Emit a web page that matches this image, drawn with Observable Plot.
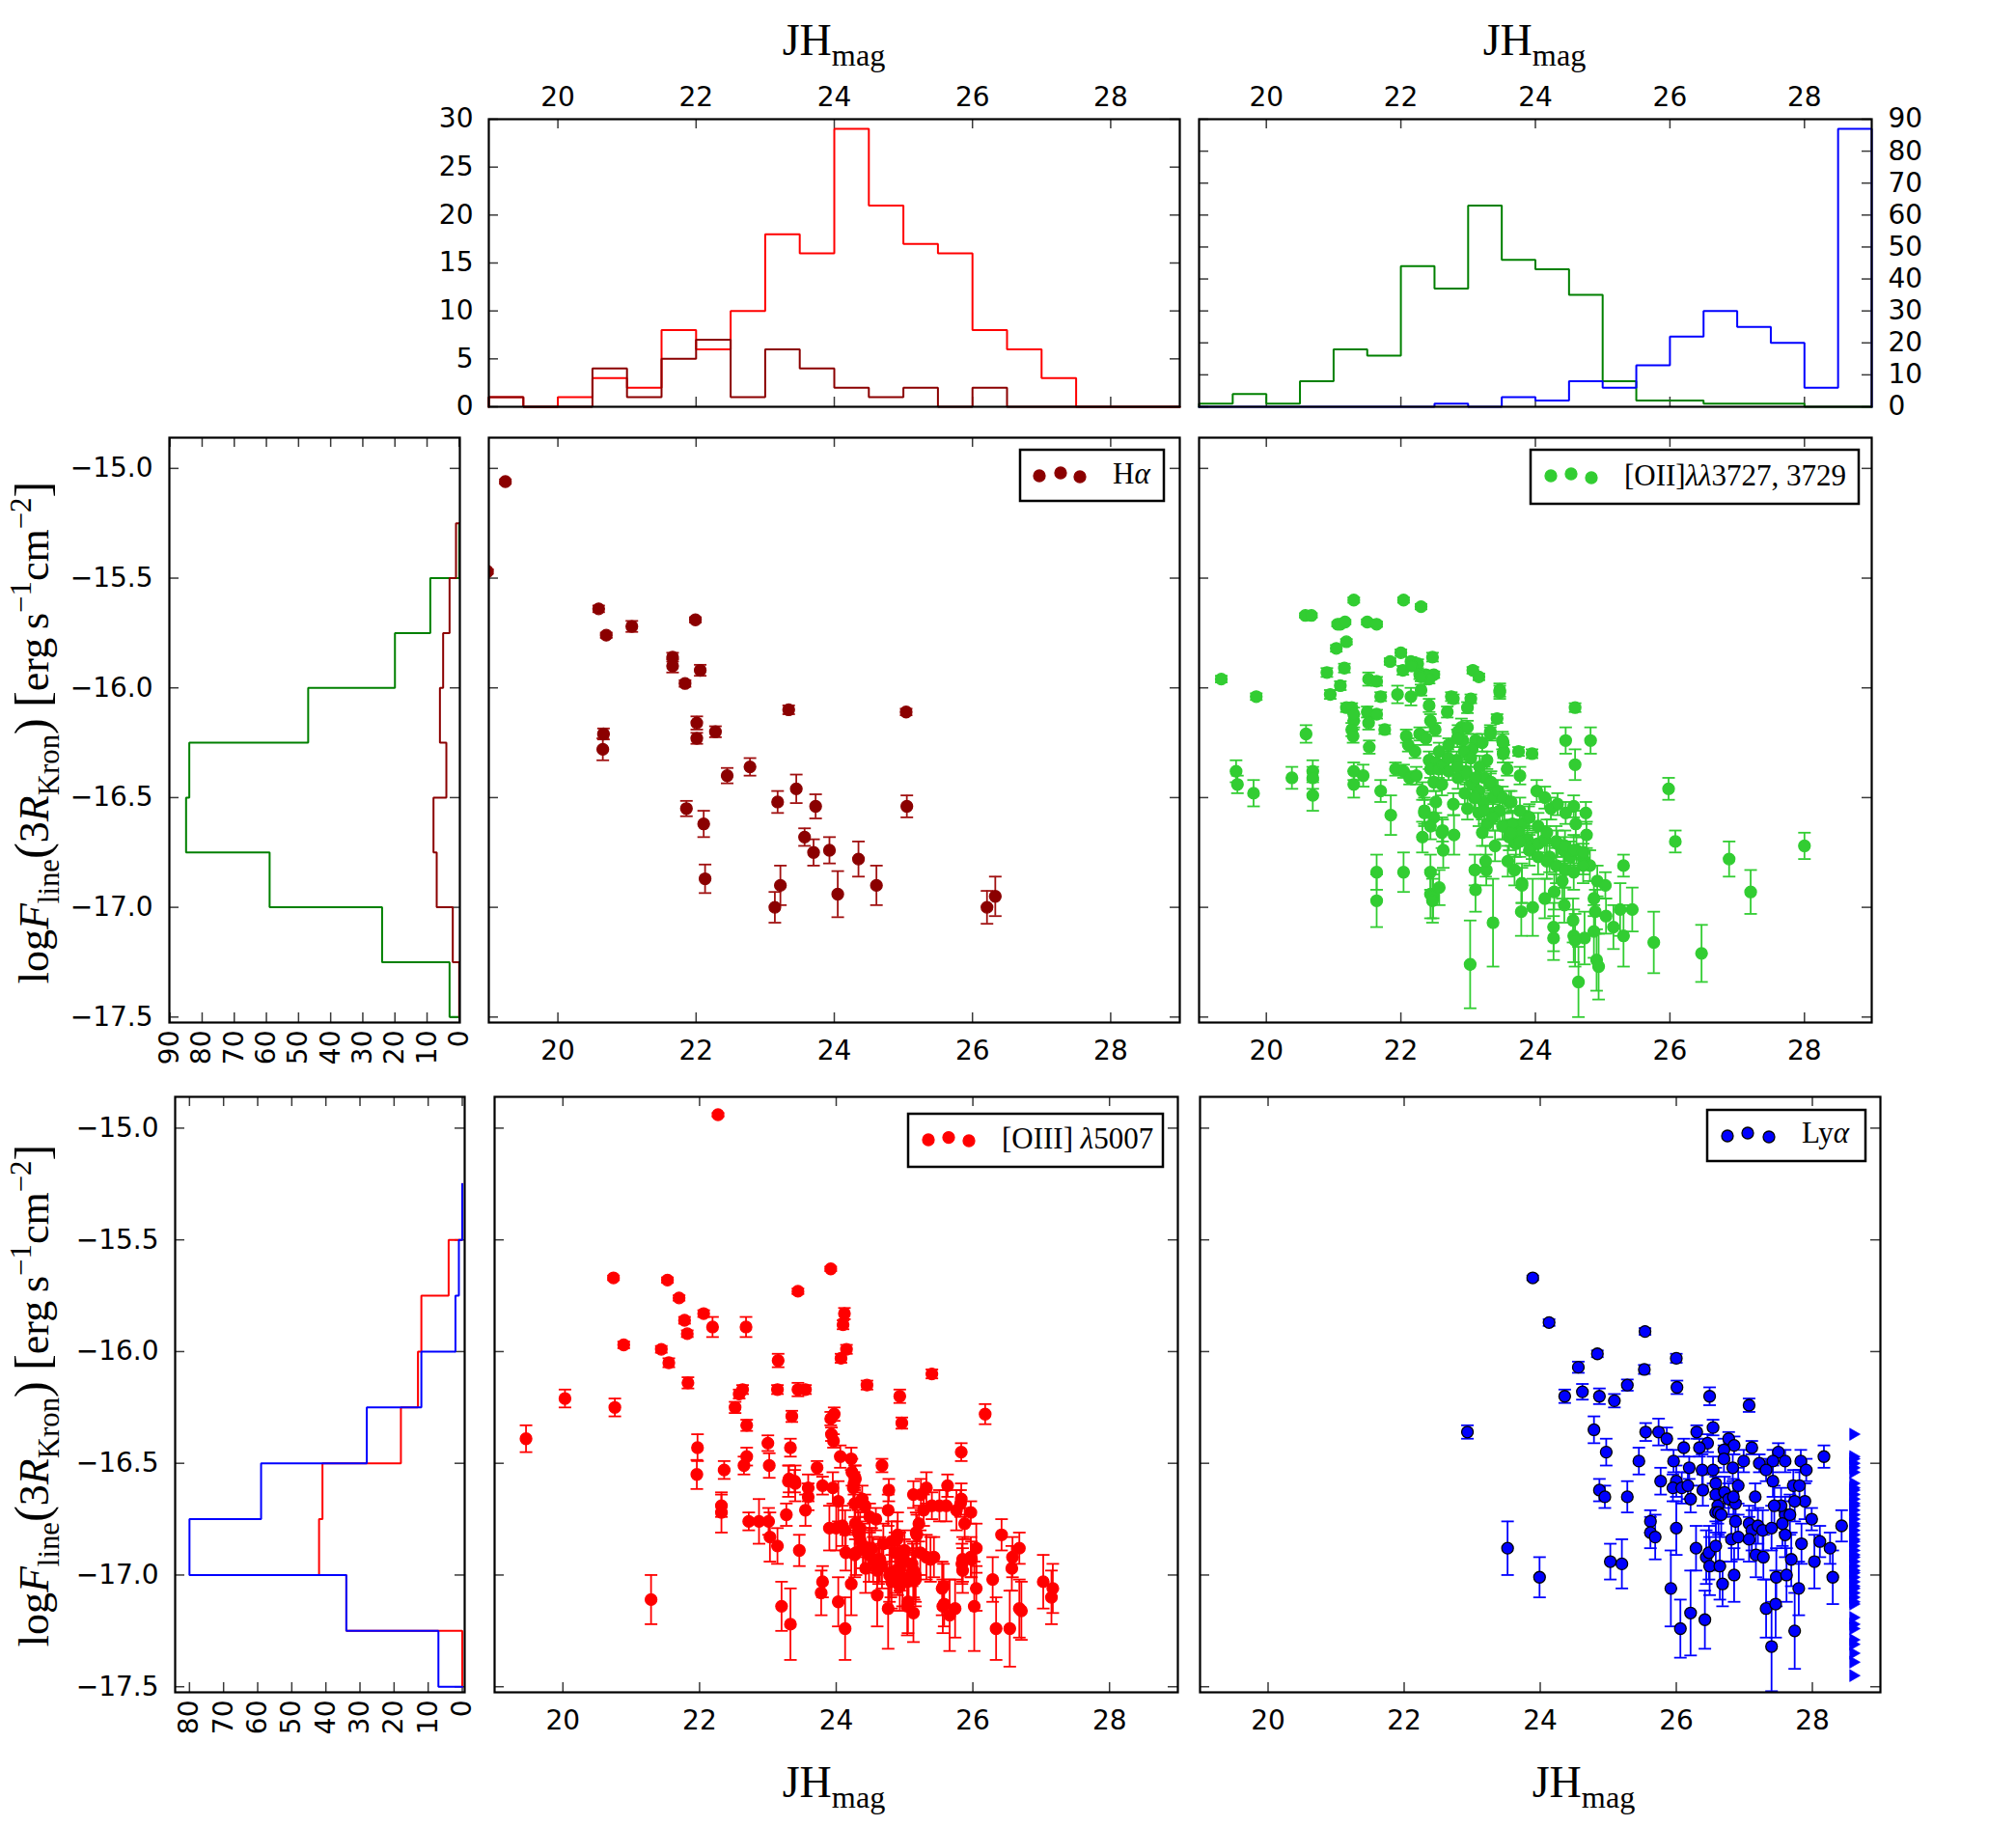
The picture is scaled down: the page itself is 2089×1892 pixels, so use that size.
<!DOCTYPE html>
<html>
<head>
<meta charset="utf-8">
<script src="https://cdn.jsdelivr.net/npm/d3@7"></script>
<script src="https://cdn.jsdelivr.net/npm/@observablehq/plot@0.6"></script>
<style>
  body { margin: 0; background: #fff; }
  #fig { position: relative; width: 2089px; height: 1892px; background: #fff; overflow: hidden; }
  #fig svg { position: absolute; overflow: visible; }
</style>
</head>
<body>
<div id="fig"></div>
<script>
// ---------------- data ----------------
// JH magnitude histogram bins (0.5 mag) and line-flux histogram bins (0.25 dex)
const jhEdges = [19.0, 19.5, 20.0, 20.5, 21.0, 21.5, 22.0, 22.5, 23.0, 23.5, 24.0, 24.5, 25.0, 25.5, 26.0, 26.5, 27.0, 27.5, 28.0, 28.5, 29.0];
const fluxEdges = [-17.5, -17.25, -17.0, -16.75, -16.5, -16.25, -16.0, -15.75, -15.5, -15.25];

// counts per JH bin
const oiiiMagCounts = [1, 0, 1, 3, 2, 8, 6, 10, 18, 16, 29, 21, 17, 16, 8, 6, 3, 0, 0, 0];
const haMagCounts   = [1, 0, 0, 4, 1, 5, 7, 1, 6, 4, 2, 1, 2, 0, 2, 0, 0, 0, 0, 0];
const oiiMagCounts  = [1, 4, 1, 8, 18, 16, 44, 37, 63, 46, 43, 35, 8, 2, 2, 1, 1, 1, 0, 0];
const lyaMagCounts  = [0, 0, 0, 0, 0, 0, 0, 1, 0, 3, 2, 8, 6, 13, 22, 30, 25, 20, 6, 87];

// counts per log-flux bin (faintest first)
const oiiFluxCounts  = [3, 24, 59, 85, 84, 47, 20, 9, 0];
const haFluxCounts   = [0, 2, 7, 8, 4, 6, 5, 3, 1];
const oiiiFluxCounts = [0, 34, 42, 41, 18, 13, 12, 4, 0];
const lyaFluxCounts  = [7, 34, 80, 59, 28, 12, 2, 1, 0];

// tick values
const jhTicks = [20, 22, 24, 26, 28];
const fluxTicks = [-15.0, -15.5, -16.0, -16.5, -17.0, -17.5];
const topLeftCountTicks = [0, 5, 10, 15, 20, 25, 30];
const topRightCountTicks = [0, 10, 20, 30, 40, 50, 60, 70, 80, 90];
const sideCountTicks1 = [0, 10, 20, 30, 40, 50, 60, 70, 80, 90];
const sideCountTicks2 = [0, 10, 20, 30, 40, 50, 60, 70, 80];

// [JH mag, log F, error]
const haPoints = [
  [18.98,-15.47,0.01],[19.24,-15.06,0.01],[20.59,-15.64,0.015],[20.70,-15.76,0.012],[21.07,-15.72,0.025],
  [21.66,-15.86,0.02],[21.66,-15.90,0.03],[21.99,-15.69,0.012],[22.06,-15.92,0.025],[21.84,-15.98,0.015],
  [23.34,-16.10,0.02],[25.04,-16.11,0.015],[20.66,-16.21,0.025],[20.65,-16.28,0.05],[22.01,-16.16,0.03],
  [22.01,-16.23,0.025],[22.28,-16.20,0.025],[22.45,-16.40,0.035],[22.78,-16.36,0.04],[23.45,-16.46,0.065],
  [23.18,-16.52,0.05],[23.73,-16.54,0.055],[25.05,-16.54,0.05],[21.86,-16.55,0.035],[22.11,-16.62,0.06],
  [23.57,-16.68,0.04],[23.70,-16.75,0.06],[23.93,-16.74,0.06],[24.35,-16.78,0.08],[22.13,-16.87,0.065],
  [23.22,-16.90,0.09],[24.61,-16.90,0.09],[23.14,-17.00,0.07],[24.05,-16.94,0.105],[26.21,-17.00,0.075],
  [26.33,-16.95,0.09]
];

const oiiPoints = [
  [21.30,-15.60,0.012],[22.04,-15.60,0.012],[22.30,-15.63,0.012],[20.58,-15.67,0.01],[20.67,-15.67,0.01],
  [21.06,-15.71,0.01],[21.10,-15.71,0.01],[21.17,-15.70,0.01],[21.50,-15.70,0.012],[21.64,-15.71,0.012],
  [21.19,-15.79,0.012],[21.04,-15.82,0.015],[22.00,-15.84,0.015],[22.47,-15.86,0.02],[21.84,-15.88,0.015],
  [22.15,-15.88,0.02],[22.25,-15.89,0.02],[20.90,-15.93,0.02],[21.16,-15.91,0.02],[22.03,-15.92,0.02],
  [22.28,-15.94,0.02],[22.37,-15.94,0.02],[22.49,-15.94,0.015],[22.42,-15.96,0.02],[23.07,-15.92,0.015],
  [23.16,-15.95,0.015],[19.33,-15.96,0.015],[21.52,-15.96,0.03],[21.64,-15.97,0.02],[21.10,-15.99,0.02],
  [22.30,-16.01,0.025],[19.85,-16.04,0.015],[20.95,-16.03,0.02],[21.70,-16.04,0.02],[21.95,-16.03,0.04],
  [22.15,-16.04,0.04],[22.75,-16.04,0.02],[22.78,-16.05,0.02],[23.04,-16.05,0.02],[23.47,-16.01,0.03],
  [23.47,-16.02,0.03],[22.42,-16.08,0.03],[21.19,-16.09,0.02],[21.27,-16.09,0.02],[21.50,-16.11,0.025],
  [21.64,-16.12,0.02],[22.69,-16.11,0.025],[22.99,-16.09,0.025],[23.43,-16.14,0.02],[21.30,-16.15,0.03],
  [21.27,-16.19,0.03],[21.29,-16.22,0.03],[21.52,-16.16,0.03],[21.76,-16.19,0.02],[20.59,-16.21,0.04],
  [21.53,-16.27,0.03],[22.51,-16.19,0.03],[22.44,-16.15,0.03],[22.90,-16.18,0.04],[23.33,-16.20,0.03],
  [23.51,-16.24,0.04],[23.53,-16.29,0.03],[23.75,-16.29,0.02],[23.95,-16.30,0.02],[24.45,-16.24,0.06],
  [24.82,-16.24,0.06],[24.59,-16.09,0.02],[24.59,-16.35,0.07],[23.58,-16.37,0.03],[23.77,-16.40,0.04],
  [19.55,-16.38,0.05],[19.57,-16.44,0.04],[19.81,-16.48,0.06],[20.38,-16.41,0.05],[20.69,-16.38,0.05],
  [20.69,-16.41,0.05],[20.69,-16.49,0.07],[21.30,-16.38,0.04],[21.30,-16.44,0.06],[21.44,-16.40,0.05],
  [21.70,-16.47,0.05],[21.85,-16.58,0.09],[21.64,-16.84,0.08],[21.64,-16.97,0.12],[22.04,-16.84,0.09],
  [22.32,-16.68,0.07],[22.35,-16.56,0.06],[22.44,-16.84,0.08],[22.44,-16.94,0.11],[22.48,-16.95,0.10],
  [22.57,-16.91,0.08],[22.62,-16.65,0.05],[22.63,-16.74,0.08],[22.78,-16.53,0.05],[22.79,-16.67,0.09],
  [23.03,-17.26,0.20],[23.10,-16.83,0.07],[23.11,-16.92,0.10],[23.27,-16.83,0.07],[23.37,-17.07,0.20],
  [23.40,-16.72,0.07],[23.79,-17.02,0.11],[23.80,-16.89,0.09],[23.96,-17.00,0.13],[24.27,-17.14,0.10],
  [24.27,-17.09,0.11],[24.43,-16.99,0.08],[24.56,-17.06,0.10],[24.57,-17.13,0.12],[24.64,-17.34,0.16],
  [24.73,-17.14,0.12],[24.87,-17.11,0.12],[24.89,-17.02,0.10],[24.87,-16.96,0.08],[24.91,-17.24,0.14],
  [24.94,-17.27,0.15],[24.92,-16.88,0.07],[25.04,-16.90,0.06],[25.05,-17.04,0.08],[25.16,-17.09,0.10],
  [25.26,-17.01,0.12],[25.31,-17.13,0.14],[25.31,-16.81,0.05],[25.44,-17.01,0.10],[25.76,-17.16,0.14],
  [25.98,-16.46,0.05],[26.08,-16.70,0.05],[26.47,-17.21,0.13],[26.88,-16.78,0.08],[27.20,-16.93,0.10],
  [28.00,-16.72,0.06],
  [22.16,-15.90,0.02],[22.30,-15.95,0.02],[21.30,-16.12,0.03],[22.08,-16.22,0.03],[22.11,-16.26,0.03],
  [22.21,-16.29,0.03],[22.28,-16.21,0.03],[22.37,-16.23,0.03],[22.71,-16.26,0.03],[22.85,-16.20,0.03],
  [22.92,-16.24,0.03],[22.99,-16.18,0.03],[23.11,-16.24,0.03],[23.06,-16.28,0.03],[23.21,-16.25,0.04],
  [23.28,-16.33,0.04],[23.33,-16.21,0.03],[23.52,-16.25,0.04],[23.52,-16.30,0.04],[21.92,-16.37,0.03],
  [22.04,-16.38,0.03],[22.13,-16.41,0.03],[22.23,-16.40,0.04],[22.32,-16.47,0.04],[22.42,-16.33,0.04],
  [22.52,-16.34,0.04],[22.44,-16.37,0.04],[22.56,-16.37,0.04],[22.63,-16.35,0.04],[22.71,-16.38,0.04],
  [22.49,-16.43,0.04],[22.61,-16.44,0.05],[22.83,-16.33,0.04],[22.85,-16.41,0.05],[22.97,-16.38,0.04],
  [23.06,-16.44,0.05],[22.95,-16.48,0.05],[23.09,-16.50,0.05],[23.16,-16.47,0.05],[23.23,-16.52,0.05],
  [23.33,-16.44,0.05],[23.37,-16.50,0.05],[22.99,-16.55,0.05],[23.16,-16.57,0.06],[23.28,-16.62,0.06],
  [23.21,-16.66,0.06],[23.37,-16.57,0.05],[23.47,-16.56,0.05],[23.54,-16.63,0.06],[23.61,-16.52,0.05],
  [22.52,-16.52,0.05],[22.49,-16.59,0.06],[22.35,-16.57,0.06],[22.44,-16.63,0.06],[22.61,-16.66,0.07],
  [22.47,-16.97,0.10],[23.26,-16.79,0.07],[23.61,-16.68,0.06],[23.71,-16.71,0.06],[23.80,-16.62,0.06],
  [23.90,-16.59,0.05],[24.02,-16.47,0.05],[24.14,-16.50,0.05],[24.23,-16.55,0.05],[24.33,-16.53,0.05],
  [23.66,-16.62,0.06],[23.76,-16.66,0.06],[23.88,-16.69,0.06],[23.95,-16.72,0.06],[24.04,-16.71,0.06],
  [24.14,-16.69,0.06],[24.21,-16.77,0.07],[24.33,-16.71,0.06],[24.42,-16.74,0.06],[24.52,-16.77,0.07],
  [24.61,-16.74,0.06],[24.71,-16.78,0.07],[24.81,-16.81,0.07],[24.45,-16.57,0.05],[24.57,-16.54,0.05],
  [24.75,-16.57,0.05],[24.76,-16.67,0.06],[24.60,-16.62,0.06],[23.59,-16.79,0.07],[23.69,-16.83,0.07],
  [23.80,-16.90,0.08],[24.14,-16.96,0.09],[24.28,-16.93,0.08],[24.40,-16.88,0.08],[24.59,-17.15,0.12],
  [22.84,-16.23,0.04],[22.94,-16.29,0.04],[23.04,-16.32,0.04],[23.17,-16.36,0.05],[23.24,-16.41,0.05],
  [23.34,-16.43,0.05],[23.44,-16.47,0.05],[23.51,-16.50,0.05],[23.64,-16.52,0.05],[23.77,-16.56,0.06],
  [23.91,-16.59,0.06],[24.04,-16.63,0.06],[24.17,-16.66,0.06],[24.31,-16.70,0.07],[24.44,-16.72,0.07],
  [24.57,-16.74,0.07],[24.71,-16.75,0.07],[23.11,-16.50,0.05],[23.24,-16.56,0.06],[23.37,-16.59,0.06],
  [23.51,-16.63,0.06],[23.64,-16.66,0.06],[23.77,-16.70,0.07],[23.91,-16.74,0.07],[24.04,-16.77,0.08],
  [24.17,-16.79,0.08],[24.31,-16.81,0.08],[24.44,-16.83,0.08],[24.57,-16.84,0.08],[24.71,-16.81,0.08],
  [22.57,-16.29,0.04],[22.70,-16.32,0.04],[22.84,-16.36,0.04],[22.97,-16.39,0.05],[23.11,-16.41,0.05]
];

const oiiiPoints = [
  [22.27,-14.94,0.008],[20.74,-15.67,0.01],[21.53,-15.68,0.012],[21.70,-15.76,0.012],[23.92,-15.63,0.01],
  [23.44,-15.73,0.012],[22.06,-15.83,0.015],[21.78,-15.86,0.015],[21.82,-15.92,0.015],[22.19,-15.89,0.045],
  [22.68,-15.89,0.045],[24.12,-15.83,0.025],[24.10,-15.88,0.02],[24.15,-15.99,0.02],[24.07,-16.03,0.02],
  [20.89,-15.97,0.015],[21.44,-15.99,0.015],[21.55,-16.05,0.02],[23.15,-16.04,0.03],[21.83,-16.14,0.025],
  [25.40,-16.10,0.02],[24.45,-16.15,0.02],[20.03,-16.21,0.04],[20.76,-16.25,0.04],[19.46,-16.39,0.06],
  [22.63,-16.17,0.02],[22.58,-16.19,0.02],[23.14,-16.17,0.02],[23.44,-16.17,0.03],[23.55,-16.17,0.02],
  [24.93,-16.20,0.03],[24.96,-16.32,0.025],[26.18,-16.28,0.045],[22.52,-16.25,0.025],[22.69,-16.33,0.025],
  [23.35,-16.29,0.025],[23.97,-16.28,0.03],[23.92,-16.30,0.03],[23.93,-16.37,0.03],[23.96,-16.40,0.03],
  [21.97,-16.43,0.06],[21.96,-16.55,0.065],[23.00,-16.41,0.035],[22.69,-16.47,0.04],[22.65,-16.51,0.04],
  [23.33,-16.43,0.04],[23.02,-16.51,0.055],[22.36,-16.53,0.04],[23.72,-16.52,0.03],[24.06,-16.47,0.05],
  [24.22,-16.48,0.05],[24.67,-16.51,0.03],[25.83,-16.45,0.04],[23.31,-16.57,0.06],[23.39,-16.58,0.05],
  [23.80,-16.60,0.04],[23.95,-16.61,0.07],[24.23,-16.54,0.06],[24.27,-16.56,0.05],[24.26,-16.59,0.05],
  [23.59,-16.61,0.06],[23.59,-16.65,0.06],[24.03,-16.67,0.09],[24.77,-16.62,0.05],[24.27,-16.68,0.06],
  [24.38,-16.66,0.06],[24.42,-16.69,0.05],[25.13,-16.64,0.06],[25.24,-16.64,0.07],[25.32,-16.61,0.07],
  [25.63,-16.60,0.05],[25.83,-16.66,0.07],[22.32,-16.69,0.05],[22.32,-16.72,0.09],[23.55,-16.71,0.07],
  [24.76,-16.71,0.07],[25.28,-16.71,0.07],[25.40,-16.69,0.06],[25.51,-16.69,0.07],[25.61,-16.69,0.07],
  [25.76,-16.71,0.09],[25.97,-16.72,0.05],[22.72,-16.76,0.04],[22.87,-16.76,0.10],[23.01,-16.76,0.06],
  [23.03,-16.83,0.11],[23.27,-16.73,0.05],[24.49,-16.74,0.06],[24.58,-16.75,0.05],[23.90,-16.79,0.10],
  [24.00,-16.79,0.10],[24.09,-16.78,0.09],[24.35,-16.79,0.07],[25.21,-16.77,0.08],[25.88,-16.77,0.07],
  [23.14,-16.87,0.08],[23.46,-16.89,0.07],[24.14,-16.90,0.08],[24.34,-16.82,0.08],[24.40,-16.87,0.10],
  [24.27,-16.91,0.10],[24.52,-16.88,0.09],[24.90,-16.82,0.10],[25.17,-16.81,0.09],[26.05,-16.88,0.11],
  [26.42,-16.82,0.07],[26.68,-16.88,0.07],[24.48,-16.91,0.12],[24.54,-16.93,0.10],[24.67,-16.96,0.10],
  [24.60,-16.98,0.10],[24.64,-16.93,0.10],[24.80,-16.99,0.11],[24.87,-16.98,0.10],[24.93,-16.91,0.10],
  [25.00,-16.94,0.10],[25.13,-16.98,0.12],[25.16,-17.00,0.12],[25.06,-17.01,0.12],[25.32,-16.92,0.10],
  [25.43,-16.92,0.09],[24.93,-17.05,0.11],[25.05,-17.12,0.14],[25.13,-17.17,0.13],[24.76,-17.15,0.18],
  [25.57,-17.05,0.10],[25.55,-17.06,0.12],[25.58,-17.13,0.10],[25.66,-17.18,0.16],[25.74,-17.15,0.13],
  [25.85,-16.93,0.10],[25.85,-16.98,0.10],[25.97,-16.92,0.09],[26.05,-17.06,0.10],[26.02,-17.14,0.20],
  [26.29,-17.02,0.10],[26.34,-17.24,0.14],[26.54,-17.24,0.17],[26.58,-16.92,0.09],[26.57,-16.97,0.10],
  [26.68,-17.15,0.13],[26.71,-17.16,0.13],[27.03,-17.03,0.12],[27.17,-17.06,0.11],[27.15,-17.10,0.12],
  [23.80,-17.03,0.07],[23.78,-17.08,0.10],[24.03,-17.12,0.11],[24.22,-17.04,0.14],[24.13,-17.24,0.14],
  [23.20,-17.14,0.11],[23.33,-17.22,0.16],[21.29,-17.11,0.11],
  [23.30,-16.58,0.07],[23.40,-16.59,0.08],[24.28,-16.57,0.06],[24.25,-16.61,0.07],[24.13,-16.80,0.09],
  [24.28,-16.77,0.07],[24.32,-16.81,0.10],[24.35,-16.84,0.08],[24.29,-16.90,0.10],[24.39,-16.88,0.09],
  [24.43,-16.97,0.11],[24.49,-16.90,0.09],[24.62,-16.94,0.10],[24.78,-17.00,0.12],[24.81,-17.03,0.12],
  [24.90,-16.99,0.10],[24.97,-17.02,0.12],[25.04,-17.03,0.12],[25.14,-17.00,0.11],[25.16,-17.02,0.12],
  [24.89,-16.84,0.08],[25.18,-16.82,0.09],[25.82,-16.68,0.06],[25.38,-16.93,0.10],[25.56,-17.14,0.12],
  [25.84,-16.95,0.09],[25.98,-16.93,0.08],[25.04,-17.14,0.13],[24.60,-17.09,0.14],[24.93,-16.97,0.10],
  [25.11,-16.95,0.10],[24.86,-16.90,0.09],[25.00,-16.89,0.09],[25.23,-16.90,0.10],[24.69,-16.86,0.09],
  [24.81,-16.85,0.09]
];

const lyaPoints = [
  [23.89,-15.67,0.01],[24.13,-15.87,0.015],[25.54,-15.91,0.015],[24.84,-16.01,0.015],[26.00,-16.03,0.02],
  [25.53,-16.08,0.02],[24.56,-16.07,0.025],[25.28,-16.15,0.025],[26.01,-16.16,0.03],[24.36,-16.20,0.03],
  [24.62,-16.18,0.035],[24.87,-16.20,0.035],[25.09,-16.22,0.03],[26.49,-16.20,0.04],[27.07,-16.24,0.03],
  [22.93,-16.36,0.03],[24.79,-16.35,0.06],[25.55,-16.36,0.04],[25.74,-16.36,0.06],[25.86,-16.39,0.05],
  [26.54,-16.34,0.035],[26.30,-16.36,0.03],[26.46,-16.41,0.04],[26.77,-16.39,0.03],[26.85,-16.42,0.04],
  [26.11,-16.43,0.04],[26.34,-16.43,0.04],[27.11,-16.43,0.03],[27.50,-16.45,0.04],[27.42,-16.49,0.05],
  [27.60,-16.49,0.05],[27.83,-16.49,0.05],[28.17,-16.47,0.05],[24.97,-16.45,0.06],[25.45,-16.49,0.06],
  [25.96,-16.49,0.05],[26.70,-16.44,0.05],[26.70,-16.48,0.06],[26.99,-16.49,0.05],[27.22,-16.50,0.04],
  [27.32,-16.53,0.05],[27.91,-16.53,0.05],[25.77,-16.58,0.06],[26.00,-16.58,0.07],[26.19,-16.52,0.05],
  [26.38,-16.53,0.07],[26.54,-16.53,0.06],[26.83,-16.52,0.06],[27.42,-16.58,0.07],[24.87,-16.62,0.05],
  [24.95,-16.65,0.05],[25.28,-16.65,0.07],[25.95,-16.61,0.06],[26.08,-16.61,0.07],[26.17,-16.60,0.06],
  [26.21,-16.66,0.06],[26.39,-16.62,0.07],[26.58,-16.59,0.07],[26.58,-16.64,0.08],[26.61,-16.69,0.08],
  [26.58,-16.72,0.09],[26.71,-16.63,0.07],[26.77,-16.66,0.07],[26.91,-16.60,0.08],[26.87,-16.68,0.09],
  [26.84,-16.65,0.08],[27.16,-16.65,0.06],[27.72,-16.60,0.07],[27.81,-16.60,0.07],[27.89,-16.67,0.08],
  [27.74,-16.67,0.09],[27.60,-16.73,0.08],[27.54,-16.69,0.08],[27.44,-16.69,0.09],[27.99,-16.75,0.05],
  [28.43,-16.78,0.07],[25.62,-16.76,0.05],[25.62,-16.81,0.07],[25.69,-16.83,0.10],[26.00,-16.79,0.12],
  [26.62,-16.72,0.10],[26.66,-16.73,0.10],[26.81,-16.84,0.10],[26.87,-16.76,0.09],[26.91,-16.83,0.10],
  [27.07,-16.77,0.08],[27.11,-16.80,0.09],[27.07,-16.84,0.10],[27.20,-16.78,0.08],[27.27,-16.80,0.09],
  [27.40,-16.79,0.10],[27.56,-16.77,0.10],[27.60,-16.82,0.10],[27.67,-16.73,0.09],[26.29,-16.88,0.10],
  [26.44,-16.92,0.12],[26.48,-16.90,0.12],[26.58,-16.87,0.11],[27.17,-16.91,0.10],[27.28,-16.92,0.10],
  [27.84,-16.86,0.09],[28.11,-16.85,0.07],[28.26,-16.88,0.07],[28.03,-16.94,0.12],[25.03,-16.94,0.08],
  [25.20,-16.95,0.11],[23.52,-16.88,0.12],[23.99,-17.01,0.09],[26.49,-16.96,0.13],[26.64,-16.96,0.15],
  [26.85,-17.00,0.12],[26.68,-17.04,0.10],[27.47,-17.01,0.13],[27.62,-17.00,0.12],[27.69,-16.93,0.12],
  [27.80,-17.06,0.12],[28.30,-17.01,0.12],[25.92,-17.06,0.17],[26.06,-17.24,0.13],[26.21,-17.17,0.19],
  [26.42,-17.20,0.13],[27.32,-17.15,0.13],[27.46,-17.13,0.15],[27.40,-17.32,0.20],[27.74,-17.25,0.17]
];

// Lyα sources without a continuum detection, shown at a fixed magnitude
const lyaLimitMag = 28.6;
const lyaLimitFlux = [
  -16.37,-16.47,-16.48,-16.50,-16.52,-16.54,-16.59,-16.61,-16.62,-16.64,-16.66,-16.68,-16.69,-16.71,
  -16.73,-16.75,-16.77,-16.78,-16.80,-16.82,-16.84,-16.85,-16.87,-16.89,-16.91,-16.92,-16.94,-16.96,
  -16.98,-16.99,-17.01,-17.03,-17.05,-17.06,-17.08,-17.10,-17.12,-17.13,-17.19,-17.22,-17.24,-17.29,
  -17.31,-17.35,-17.39,-17.45
];

// ---------------- drawing ----------------
const fig = document.getElementById("fig");
const SANS = "'DejaVu Sans', sans-serif";
const SERIF = "'Liberation Serif', 'DejaVu Serif', serif";
const M = 90;                          // margin around each frame, room for tick labels
const jhDomain = [19, 29];
const fluxDomain = [-17.525, -14.86];
const frameStyle = {stroke: "#000", strokeWidth: 2.2};

function panel([l, t, r, b], xDomain, yDomain, marks) {
  const w = r - l, h = b - t;
  const svg = Plot.plot({
    width: w + 2 * M, height: h + 2 * M,
    marginTop: M, marginRight: M, marginBottom: M, marginLeft: M,
    x: {domain: xDomain, axis: null},
    y: {domain: yDomain, axis: null},
    style: {fontFamily: SANS, fontSize: "28px", color: "#000", background: "none", overflow: "visible"},
    marks: marks(w, h)
  });
  svg.style.left = `${l - M}px`;
  svg.style.top = `${t - M}px`;
  fig.appendChild(svg);
}

// inward ticks on all four sides
function tickRules(xt, yt, w, h, L = 10) {
  const s = {stroke: "#3a3a3a", strokeWidth: 1.5};
  return [
    Plot.ruleX(xt, {x: d => d, insetTop: h - L, ...s}),
    Plot.ruleX(xt, {x: d => d, insetBottom: h - L, ...s}),
    Plot.ruleY(yt, {y: d => d, insetRight: w - L, ...s}),
    Plot.ruleY(yt, {y: d => d, insetLeft: w - L, ...s})
  ];
}

// outline of a step histogram, bars standing on the x axis
function stepAlongX(edges, counts) {
  const pts = [{x: edges[0], y: 0}];
  counts.forEach((c, i) => pts.push({x: edges[i], y: c}, {x: edges[i + 1], y: c}));
  pts.push({x: edges[edges.length - 1], y: 0});
  return pts;
}
// outline of a sideways step histogram, bars growing from the right edge
function stepAlongY(edges, counts) {
  const pts = [{x: 0, y: edges[0]}];
  counts.forEach((c, i) => pts.push({x: c, y: edges[i]}, {x: c, y: edges[i + 1]}));
  pts.push({x: 0, y: edges[edges.length - 1]});
  return pts;
}
const histLine = (pts, stroke) => Plot.line(pts, {x: "x", y: "y", stroke, strokeWidth: 2, strokeLinejoin: "miter"});

const capSymbol = {draw(ctx, size) { const r = Math.sqrt(size / Math.PI); ctx.moveTo(-r, 0); ctx.lineTo(r, 0); }};
function scatter(pts, color, edge, barColor = color) {
  const X = d => d[0];
  const bar = {stroke: barColor, strokeWidth: 1.8, clip: true};
  return [
    Plot.ruleX(pts, {x: X, y1: d => d[1] - d[2], y2: d => d[1] + d[2], ...bar}),
    Plot.dot(pts, {x: X, y: d => d[1] - d[2], symbol: capSymbol, r: 6.5, fill: "none", ...bar}),
    Plot.dot(pts, {x: X, y: d => d[1] + d[2], symbol: capSymbol, r: 6.5, fill: "none", ...bar}),
    Plot.dot(pts, {x: X, y: d => d[1], r: 6, fill: color, stroke: edge, strokeWidth: 1.3, clip: true})
  ];
}

const fluxFmt = d3.format(".1f");
const bottomJH = Plot.axisX({anchor: "bottom", ticks: jhTicks, tickSize: 0, tickPadding: 19, label: null});
const topJH = Plot.axisX({anchor: "top", ticks: jhTicks, tickSize: 0, tickPadding: 14, label: null});
const leftFlux = Plot.axisY({anchor: "left", ticks: fluxTicks, tickSize: 0, tickPadding: 17, tickFormat: fluxFmt, label: null});
const sideCountLabels = ticks => Plot.text(ticks, {x: d => d, frameAnchor: "bottom", text: d => `${d}`, rotate: -90, textAnchor: "end", lineAnchor: "middle", dy: 8});

// top row: JH histograms
panel([506, 123, 1222, 421], jhDomain, [0, 30], (w, h) => [
  ...tickRules(jhTicks, topLeftCountTicks, w, h),
  histLine(stepAlongX(jhEdges, oiiiMagCounts), "red"),
  histLine(stepAlongX(jhEdges, haMagCounts), "darkred"),
  topJH,
  Plot.axisY({anchor: "left", ticks: topLeftCountTicks, tickSize: 0, tickPadding: 16, label: null}),
  Plot.frame(frameStyle)
]);
panel([1242, 123, 1939, 421], jhDomain, [0, 90], (w, h) => [
  ...tickRules(jhTicks, topRightCountTicks, w, h),
  histLine(stepAlongX(jhEdges, oiiMagCounts), "green"),
  histLine(stepAlongX(jhEdges, lyaMagCounts), "blue"),
  topJH,
  Plot.axisY({anchor: "right", ticks: topRightCountTicks, tickSize: 0, tickPadding: 17, label: null}),
  Plot.frame(frameStyle)
]);

// middle row
panel([175, 453, 476, 1059], [90.2, -0.2], fluxDomain, (w, h) => [
  ...tickRules(sideCountTicks1, fluxTicks, w, h),
  histLine(stepAlongY(fluxEdges, oiiFluxCounts), "green"),
  histLine(stepAlongY(fluxEdges, haFluxCounts), "darkred"),
  leftFlux,
  sideCountLabels(sideCountTicks1),
  Plot.frame(frameStyle)
]);
panel([506, 453, 1222, 1059], jhDomain, fluxDomain, (w, h) => [
  ...tickRules(jhTicks, fluxTicks, w, h),
  ...scatter(haPoints, "darkred", "darkred", "#a01010"),
  bottomJH,
  Plot.frame(frameStyle)
]);
panel([1242, 453, 1939, 1059], jhDomain, fluxDomain, (w, h) => [
  ...tickRules(jhTicks, fluxTicks, w, h),
  ...scatter(oiiPoints, "limegreen", "limegreen"),
  bottomJH,
  Plot.frame(frameStyle)
]);

// bottom row
panel([181, 1136, 481, 1753], [84.2, -0.7], fluxDomain, (w, h) => [
  ...tickRules(sideCountTicks2, fluxTicks, w, h),
  histLine(stepAlongY(fluxEdges, oiiiFluxCounts), "red"),
  histLine(stepAlongY(fluxEdges, lyaFluxCounts), "blue"),
  leftFlux,
  sideCountLabels(sideCountTicks2),
  Plot.frame(frameStyle)
]);
panel([512, 1136, 1220, 1753], jhDomain, fluxDomain, (w, h) => [
  ...tickRules(jhTicks, fluxTicks, w, h),
  ...scatter(oiiiPoints, "red", "red"),
  bottomJH,
  Plot.frame(frameStyle)
]);
panel([1243, 1136, 1948, 1753], jhDomain, fluxDomain, (w, h) => [
  ...tickRules(jhTicks, fluxTicks, w, h),
  ...scatter(lyaPoints, "blue", "black"),
  Plot.dot(lyaLimitFlux, {x: () => lyaLimitMag, y: d => d, symbol: "triangle2", rotate: 90, r: 6, fill: "blue", stroke: "blue", strokeWidth: 0.6, clip: true}),
  bottomJH,
  Plot.frame(frameStyle)
]);

// ---------------- labels and legends ----------------
const NS = "http://www.w3.org/2000/svg";
function el(tag, attrs, parent) {
  const e = document.createElementNS(NS, tag);
  for (const k in attrs) e.setAttribute(k, attrs[k]);
  if (parent) parent.appendChild(e);
  return e;
}
const over = el("svg", {width: 2089, height: 1892, viewBox: "0 0 2089 1892"}, fig);
over.style.left = "0px"; over.style.top = "0px"; over.style.pointerEvents = "none";

// text built from pieces: n = upright, i = italic, sub / sup = scripts, big = enlarged delimiter
function rich(parts, {x, y, size, anchor = "start", transform}) {
  const t = el("text", {x, y, "font-family": SERIF, "font-size": size, "text-anchor": anchor, fill: "#000"}, over);
  t.style.whiteSpace = "pre";
  if (transform) t.setAttribute("transform", transform);
  let shift = 0;
  for (const [str, kind] of parts) {
    const target = kind === "sub" ? 0.24 * size : kind === "sup" ? -0.42 * size : 0;
    const sp = el("tspan", {dy: target - shift}, t);
    shift = target;
    if (kind === "sub" || kind === "sup") sp.setAttribute("font-size", 0.7 * size);
    if (kind === "i") sp.setAttribute("font-style", "italic");
    if (kind === "big") sp.setAttribute("font-size", 1.15 * size);
    sp.textContent = str;
  }
  return t;
}

const jhLabel = [["JH", "n"], ["mag", "sub"]];
rich(jhLabel, {x: 864, y: 57, size: 46, anchor: "middle"});
rich(jhLabel, {x: 1590, y: 57, size: 46, anchor: "middle"});
rich(jhLabel, {x: 864, y: 1862, size: 46, anchor: "middle"});
rich(jhLabel, {x: 1641, y: 1862, size: 46, anchor: "middle"});

const fluxLabel = [["log", "n"], ["F", "i"], ["line", "sub"], ["(", "big"], ["3", "n"], ["R", "i"], ["Kron", "sub"], [")", "big"],
  [" ", "n"], ["[", "big"], ["erg\u2009s", "n"], ["\u22121", "sup"], ["cm", "n"], ["\u22122", "sup"], ["]", "big"]];
rich(fluxLabel, {x: 0, y: 0, size: 44, anchor: "middle", transform: "translate(50,759) rotate(-90)"});
rich(fluxLabel, {x: 0, y: 0, size: 44, anchor: "middle", transform: "translate(50,1446) rotate(-90)"});

function legend({box: [l, t, r, b], dots, color, edge, label, textX, baseline}) {
  el("rect", {x: l, y: t, width: r - l, height: b - t, fill: "#fff", stroke: "#000", "stroke-width": 2.5}, over);
  for (const [cx, cy] of dots) el("circle", {cx, cy, r: 6, fill: color, stroke: edge, "stroke-width": 1.3}, over);
  rich(label, {x: textX, y: baseline, size: 31});
}
legend({box: [1057, 466, 1206, 519], dots: [[1077, 493], [1099, 490], [1119, 494]], color: "darkred", edge: "darkred",
  label: [["H", "n"], ["α", "i"]], textX: 1153, baseline: 501});
legend({box: [1586, 466, 1926, 522], dots: [[1607, 493], [1628, 491], [1649, 495]], color: "limegreen", edge: "limegreen",
  label: [["[OII]", "n"], ["λλ", "i"], ["3727, 3729", "n"]], textX: 1683, baseline: 503});
legend({box: [941, 1154, 1205, 1209], dots: [[962, 1181], [983, 1178.6], [1004, 1182]], color: "red", edge: "red",
  label: [["[OIII] ", "n"], ["λ", "i"], ["5007", "n"]], textX: 1038, baseline: 1190});
legend({box: [1769, 1150, 1933, 1203], dots: [[1790, 1177], [1811, 1174], [1833, 1178]], color: "blue", edge: "black",
  label: [["Ly", "n"], ["α", "i"]], textX: 1867, baseline: 1184});
</script>
</body>
</html>
